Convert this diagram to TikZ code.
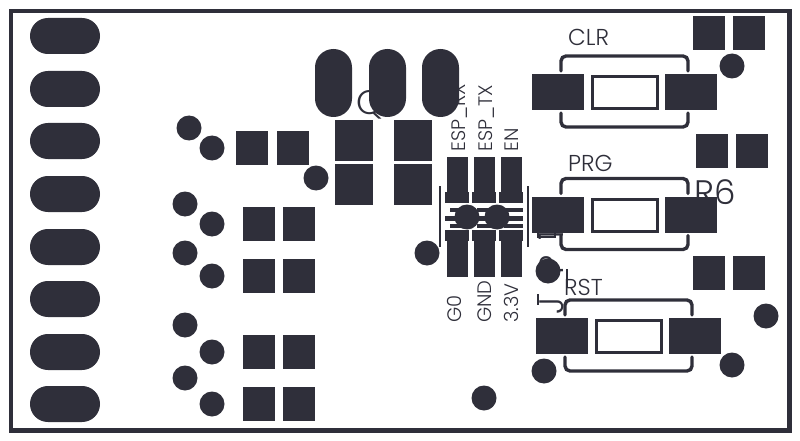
\documentclass[tikz,border=0pt]{standalone}
\usepackage{fontspec}
\newfontfamily\silkfont{Poppins Light}
\definecolor{padcol}{HTML}{2F2F3A}
\tikzset{
	pad/.style={fill=padcol, inner sep=0pt, outer sep=0pt},
	sqpad/.style={pad, minimum width=32pt, minimum height=34pt},
	swpad/.style={pad, minimum width=52pt, minimum height=36pt},
	fetpad/.style={pad, minimum width=38pt, minimum height=41pt},
	hole/.style={pad, circle, minimum size=25pt},
	slotw/.style={pad, minimum width=70pt, minimum height=36pt, rounded corners=17.9pt},
	sloth/.style={pad, minimum width=37pt, minimum height=68pt, rounded corners=18.4pt},
	pinpad/.style={pad, minimum width=21pt, minimum height=36pt},
	silk/.style={draw=padcol, line width=3.4pt, rounded corners=5pt},
	thin silk/.style={draw=padcol, line width=2pt},
	small text/.style={text=padcol, font=\silkfont\fontsize{23}{23}\selectfont, inner sep=0pt, anchor=base west},
	pin text/.style={text=padcol, font=\silkfont\fontsize{19.5}{20}\selectfont, inner sep=0pt, anchor=base west, rotate=90},
	big text/.style={text=padcol, font=\silkfont\fontsize{34}{34}\selectfont, inner sep=0pt, anchor=base west},
}
\begin{document}
\begin{tikzpicture}[x=1pt, y=-1pt]
	\useasboundingbox (0, 0) rectangle (800, 441);
	% \draw (0, 0) grid (800, 441);
	\draw [padcol, line width=4.6pt] (11, 11) rectangle (789.5, 430.5);
	% names under the pads
	\node [big text] (q1) at (356, 115) {Q1};
	\node [big text] (r6) at (694, 204) {R6};
	\node [big text, rotate=90] (jp1) at (563, 315) {J\kern23pt P\kern15pt 1};
	\draw [thin silk] (567, 269) -- (567, 288);
	\draw [thin silk] (538, 294) -- (538, 305);
	\draw [thin silk] (538, 232) -- (538, 237) -- (555, 237) -- (555, 232);
	% left slots
	\foreach \i/\y in {1/36, 2/89, 3/141, 4/194, 5/247, 6/299, 7/352, 8/404}
		\node [slotw] (slot\i) at (65, \y) {};
	% top slots
	\foreach \i/\x in {1/333.5, 2/387.5, 3/440.5}
		\node [sloth] (tab\i) at (\x, 83) {};
	% transistor pads
	\node [fetpad] (fet1) at (354, 140.5) {};
	\node [fetpad] (fet2) at (354, 184.5) {};
	\node [fetpad] (fet3) at (413, 140.5) {};
	\node [fetpad] (fet4) at (413, 184.5) {};
	% square pads
	\foreach \i/\x/\y in {1/252/148, 2/293/148, 3/259/224, 4/299/224, 5/259/276, 6/299/276,
		7/259/352, 8/299/352, 9/259/404, 10/299/404, 11/709/33, 12/749/33, 13/712/151,
		14/752/151, 15/709/273, 16/749/273}
		\node [sqpad] (sq\i) at (\x, \y) {};
	% solder jumpers
	\foreach \i/\x in {1/457, 2/484, 3/511} {
		\node [pinpad] (up\i) at (\x, 175) {};
		\node [pinpad, minimum height=45pt] (down\i) at (\x, 254.5) {};
		\node [pad, minimum width=24pt, minimum height=11pt] (upw\i) at (\x, 197.5) {};
		\node [pad, minimum width=24pt, minimum height=11pt] (downw\i) at (\x, 235.5) {};
		\node [pad, minimum width=24pt, minimum height=5pt] (mid\i) at (\x, 218.5) {};
		\node [pad, minimum width=19pt, minimum height=4pt] (comba\i) at (\x + 2.5, 210) {};
		\node [pad, minimum width=19pt, minimum height=4pt] (combb\i) at (\x + 2.5, 226) {};
	}
	\draw [thin silk] (440, 186) -- (440, 247);
	\draw [thin silk] (528, 186) -- (528, 247);
	\node [hole] (via1) at (467, 217) {};
	\node [hole] (via2) at (497, 217) {};
	% buttons
	\foreach \n/\dx/\dy in {clr/0/0, prg/0/122.5, rst/4/244} {
		\begin{scope}[shift={(\dx, \dy)}]
			\node [swpad] (\n a) at (558, 92) {};
			\node [swpad] (\n b) at (691, 92) {};
			\draw [thin silk, line width=3pt] (592.5, 76.5) rectangle (657.5, 108.5);
			\draw [silk, line cap=round] (561, 71) -- (561, 56) -- (688, 56) -- (688, 71);
			\draw [silk, line cap=round] (561, 113) -- (561, 127) -- (688, 127) -- (688, 113);
		\end{scope}
	}
	\node [small text] (clr) at (568, 46) {CLR};
	\node [small text] (prg) at (568, 171) {PRG};
	\node [small text] (rst) at (564, 295) {RST};
	\node [pin text] (rx) at (465, 152) {ESP\_RX};
	\node [pin text] (tx) at (492, 152) {ESP\_TX};
	\node [pin text] (en) at (518, 152) {EN};
	\node [pin text] (g0) at (461, 323) {G0};
	\node [pin text] (gnd) at (491, 323) {GND};
	\node [pin text] (vcc) at (518, 323) {3.3V};
	% loose holes
	\foreach \i/\x/\y in {1/189/128, 2/212/148, 3/185/204, 4/212/224, 5/185/253, 6/212/276,
		7/185/325, 8/212/352, 9/185/378, 10/212/404, 11/316/178, 12/427/253, 13/484/398,
		14/732/66, 15/548/271, 16/766/316, 17/544/371, 18/732/365}
		\node [hole] (hole\i) at (\x, \y) {};
\end{tikzpicture}
\end{document}
